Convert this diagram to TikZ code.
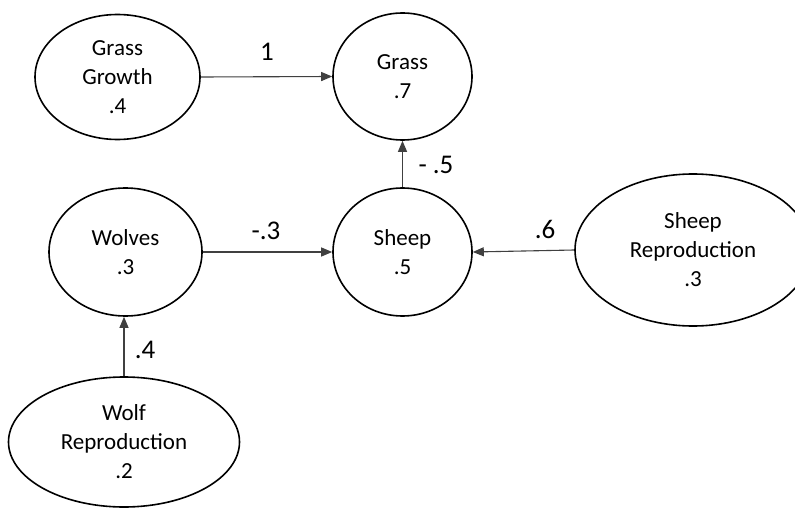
\documentclass[tikz,border=0pt]{standalone}
\usepackage{fontspec}
\setmainfont{Carlito}
\usetikzlibrary{shapes.geometric,arrows.meta}
\begin{document}
\begin{tikzpicture}[x=1pt,y=-1pt,
  var/.style={draw=black,line width=1.6pt,ellipse,inner sep=0pt,align=center,
    font=\fontsize{23}{29}\selectfont},
  link/.style={draw=black!75,line width=1.1pt,-{Triangle[length=11pt,width=9pt]}},
  wt/.style={font=\fontsize{27}{30}\selectfont,inner sep=0pt}]
\useasboundingbox (0,0) rectangle (795,508);
\clip (0,0) rectangle (795,508);
\fill[white] (0,0) rectangle (795,508);
\node[var,minimum width=165pt,minimum height=125pt] (gg) at (117.5,77) {Grass\\Growth\\.4};
\node[var,minimum width=139pt,minimum height=127pt] (grass) at (402.5,76.5) {Grass\\.7};
\node[var,minimum width=139pt,minimum height=128pt] (sheep) at (402.5,252) {Sheep\\.5};
\node[var,minimum width=153pt,minimum height=128pt] (wolves) at (125.5,252) {Wolves\\.3};
\node[var,minimum width=236pt,minimum height=152pt] (sr) at (693,250) {Sheep\\Reproduction\\.3};
\node[var,minimum width=231pt,minimum height=130pt] (wr) at (124,442) {Wolf\\Reproduction\\.2};
\draw[link] (gg.east) -- (grass.west);
\draw[link] (sheep.north) -- (grass.south);
\draw[link] (wolves.east) -- (sheep.west);
\draw[link] (sr.west) -- (sheep.east);
\draw[link] (wr.north) -- (wr.north |- wolves.south);
\node[wt] (l1) at (267,52) {1};
\node[wt] (l2) at (436,165) {- .5};
\node[wt] (l3) at (266,231) {-.3};
\node[wt] (l4) at (545,229) {.6};
\node[wt] (l5) at (145,350) {.4};
\end{tikzpicture}
\end{document}
